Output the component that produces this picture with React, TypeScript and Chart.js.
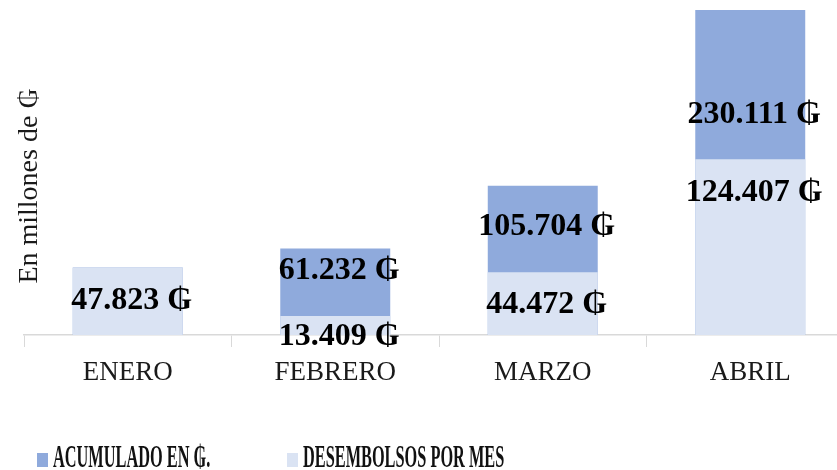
import React, { useEffect, useRef } from "react";
import { Chart, registerables } from "chart.js";

Chart.register(...registerables);

const categories = ["ENERO", "FEBRERO", "MARZO", "ABRIL"];
const acumulado = [47823, 61232, 105704, 230111];
const desembolsos = [47823, 13409, 44472, 124407];
const seriesNames = ["ACUMULADO EN ₲.", "DESEMBOLSOS POR MES"];
const yAxisTitle = "En millones de ₲";

const DARK = "#8faadc";
const LIGHT = "#dae3f3";
const SERIF = "'Liberation Serif', 'DejaVu Serif', serif";

function fmt(v: number): string {
  return String(v).replace(/\B(?=(\d{3})+(?!\d))/g, ".") + " ₲";
}

const overlay = {
  id: "overlay",
  afterDatasetsDraw(chart: any) {
    const ctx = chart.ctx as CanvasRenderingContext2D;
    const metaLight = chart.getDatasetMeta(1);
    ctx.save();
    ctx.fillStyle = "#000";
    ctx.font = `bold 32px ${SERIF}`;
    ctx.textAlign = "center";
    ctx.textBaseline = "middle";
    desembolsos.forEach((v, i) => {
      const bar = metaLight.data[i];
      const top = bar.y;
      const h = bar.base - top;
      ctx.fillText(fmt(v), bar.x + 4, top + Math.min(33, h + 2));
      const a = acumulado[i];
      if (a > v) ctx.fillText(fmt(a), bar.x + 4, top - 45);
    });
    ctx.restore();
  },
  afterDraw(chart: any) {
    const ctx = chart.ctx as CanvasRenderingContext2D;
    ctx.save();
    // y-axis title
    ctx.translate(30, 186);
    ctx.rotate(-Math.PI / 2);
    ctx.fillStyle = "#1a1a1a";
    ctx.font = `28px ${SERIF}`;
    ctx.textAlign = "center";
    ctx.textBaseline = "middle";
    ctx.fillText(yAxisTitle, 0, 0);
    ctx.restore();

    // legend
    const items = [
      { x: 37, color: DARK, text: seriesNames[0] },
      { x: 287, color: LIGHT, text: seriesNames[1] },
    ];
    items.forEach((it) => {
      ctx.save();
      ctx.fillStyle = it.color;
      ctx.fillRect(it.x, 453, 11, 14);
      ctx.translate(it.x + 16, 459);
      ctx.scale(0.51, 1);
      ctx.fillStyle = "#111";
      ctx.font = `bold 32px ${SERIF}`;
      ctx.textAlign = "left";
      ctx.textBaseline = "middle";
      ctx.fillText(it.text, 0, 0);
      ctx.restore();
    });
  },
};

export default function App() {
  const ref = useRef<HTMLCanvasElement | null>(null);

  useEffect(() => {
    if (!ref.current) return;
    const chart = new Chart(ref.current, {
      type: "bar",
      data: {
        labels: categories,
        datasets: [
          {
            label: seriesNames[0],
            data: acumulado,
            backgroundColor: DARK,
            grouped: false,
            order: 2,
            barPercentage: 0.53,
            categoryPercentage: 1,
          },
          {
            label: seriesNames[1],
            data: desembolsos,
            backgroundColor: LIGHT,
            grouped: false,
            order: 1,
            barPercentage: 0.53,
            categoryPercentage: 1,
          },
        ],
      },
      options: {
        responsive: false,
        animation: false,
        devicePixelRatio: 1,
        layout: { padding: { left: 24, right: 0, top: 0, bottom: 0 } },
        plugins: {
          legend: { display: false },
          tooltip: { enabled: false },
        },
        scales: {
          x: {
            afterFit: (s: any) => {
              s.height = 135;
            },
            grid: {
              display: true,
              drawOnChartArea: false,
              drawTicks: true,
              tickLength: 12,
              color: "#d9d9d9",
              offset: true,
            },
            border: { display: true, color: "#d9d9d9", width: 1.5 },
            ticks: {
              color: "#1a1a1a",
              padding: 10,
              font: { family: SERIF, size: 27 },
            },
          },
          y: {
            display: false,
            min: 0,
            max: 237191,
          },
        },
      },
      plugins: [overlay],
    } as any);
    return () => chart.destroy();
  }, []);

  return (
    <div
      style={{
        position: "fixed",
        left: 0,
        top: 0,
        width: 837,
        height: 470,
        overflow: "hidden",
        background: "#fff",
      }}
    >
      <canvas ref={ref} width={854} height={470} style={{ display: "block" }} />
    </div>
  );
}
